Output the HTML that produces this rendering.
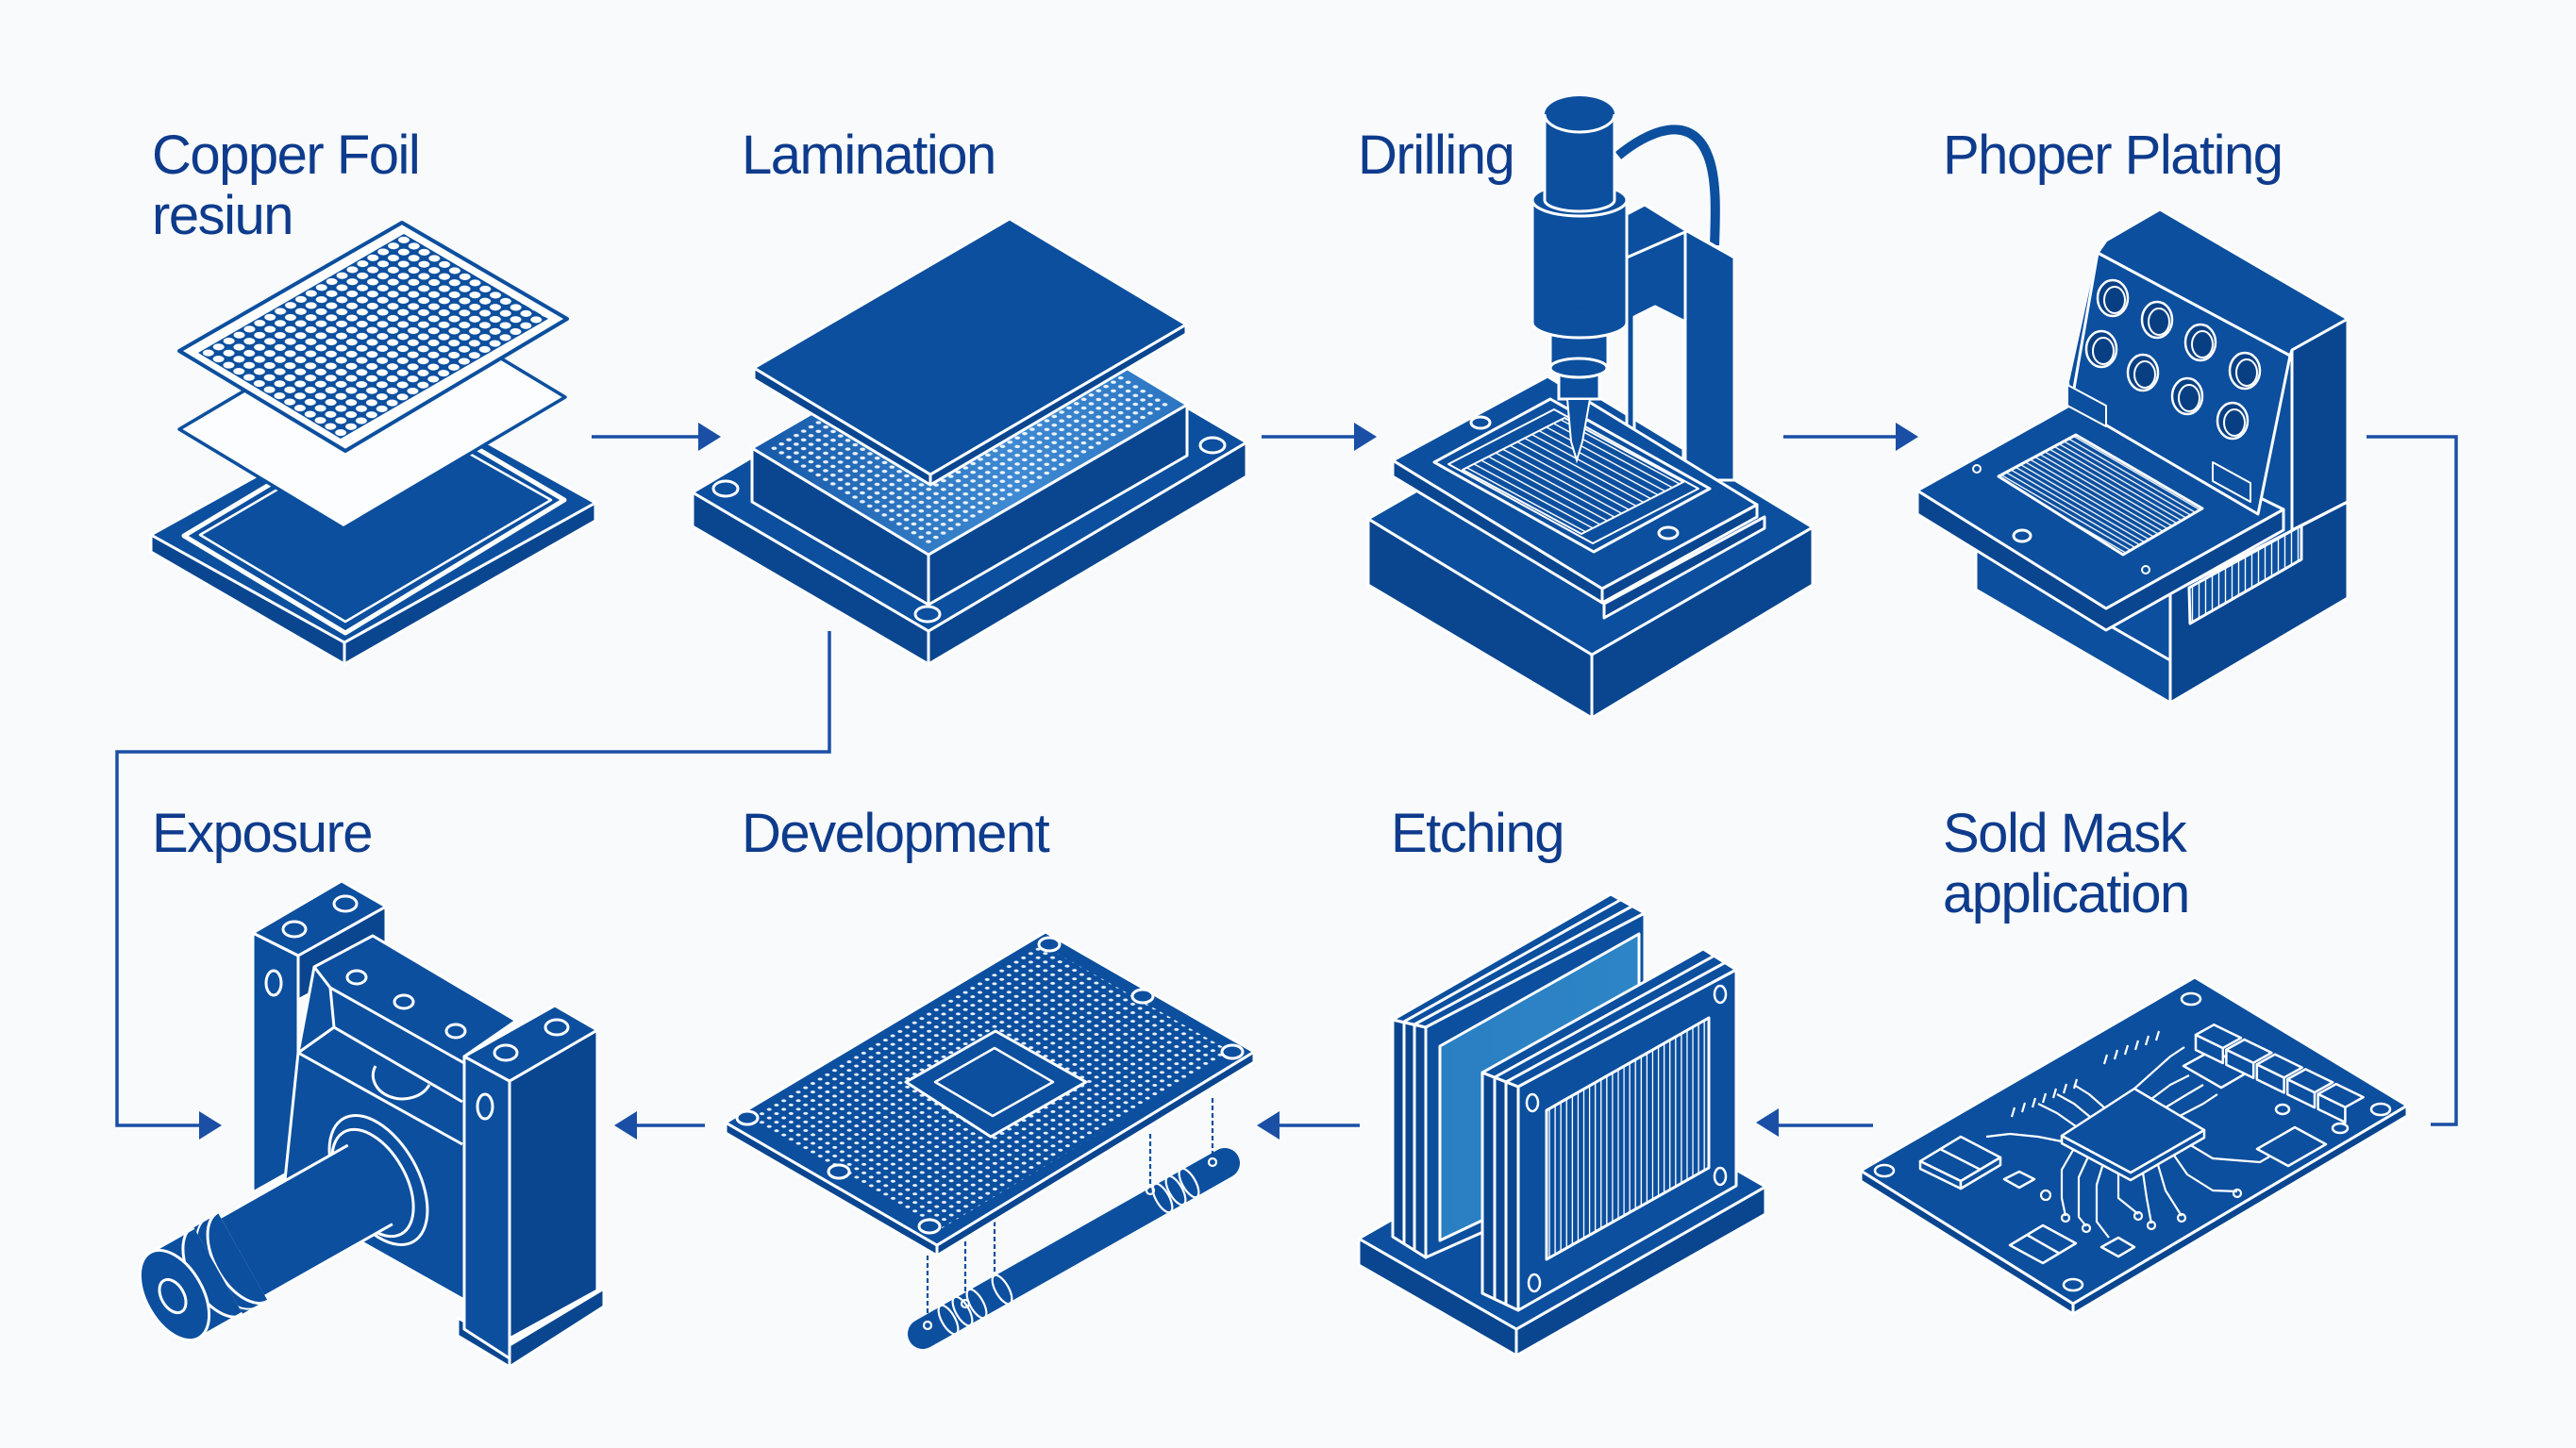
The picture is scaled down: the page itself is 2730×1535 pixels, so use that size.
<!DOCTYPE html>
<html><head><meta charset="utf-8"><style>
html,body{margin:0;padding:0;background:#f8fafc;}
svg{display:block}
</style></head><body>
<svg width="2730" height="1535" viewBox="0 0 2730 1535" xmlns="http://www.w3.org/2000/svg">
<defs>
 <pattern id="mesh" patternUnits="userSpaceOnUse" width="10" height="10" patternTransform="matrix(1.09,-0.63,1.079,0.65,210,374)">
  <rect width="10" height="10" fill="#0c4f9e"/><circle cx="5" cy="5" r="3.9" fill="#fff"/>
 </pattern>
 <pattern id="ldots" patternUnits="userSpaceOnUse" width="10" height="10" patternTransform="matrix(0.783,-0.454,0.779,0.471,797,475)">
  <circle cx="5" cy="5" r="2.6" fill="#fff" opacity="0.9"/>
 </pattern>
 <pattern id="ddots" patternUnits="userSpaceOnUse" width="10" height="10" patternTransform="matrix(0.77,-0.459,0.772,0.448,769,1190)">
  <rect width="10" height="10" fill="#0c4f9e"/><circle cx="5" cy="5" r="2.3" fill="#e8f0fb"/>
 </pattern>
 <pattern id="dhatch" patternUnits="userSpaceOnUse" width="10" height="10" patternTransform="matrix(0.881,0.476,-0.767,0.391,1658,443)">
  <rect width="10" height="10" fill="#0c4f9e"/><line x1="0" y1="5" x2="10" y2="5" stroke="#fff" stroke-width="2"/>
 </pattern>
 <pattern id="phatch" patternUnits="userSpaceOnUse" width="10" height="10" patternTransform="matrix(0.864,0.503,-0.511,0.274,2200,461)">
  <rect width="10" height="10" fill="#0c4f9e"/><line x1="0" y1="5" x2="10" y2="5" stroke="#fff" stroke-width="2.6"/>
 </pattern>
 <pattern id="grill" patternUnits="userSpaceOnUse" width="10" height="10" patternTransform="matrix(0.608,-0.347,0,1,1639,1177)">
  <rect width="10" height="10" fill="#0c4f9e"/><line x1="5" y1="0" x2="5" y2="10" stroke="#fff" stroke-width="2.2"/>
 </pattern>
 <pattern id="vent" patternUnits="userSpaceOnUse" width="10" height="10" patternTransform="matrix(0.7,-0.39,0,1,2320,623)">
  <rect width="10" height="10" fill="#0c4f9e"/><line x1="5" y1="0" x2="5" y2="10" stroke="#fff" stroke-width="2"/>
 </pattern>
 <linearGradient id="lgrad" gradientUnits="userSpaceOnUse" x1="800" y1="0" x2="1258" y2="0">
  <stop offset="0" stop-color="#1559a8"/><stop offset="0.6" stop-color="#3f8ad2"/><stop offset="1" stop-color="#2a74c0"/>
 </linearGradient>
 <linearGradient id="glass" gradientUnits="userSpaceOnUse" x1="1526" y1="0" x2="1737" y2="0">
  <stop offset="0" stop-color="#2a7fc2"/><stop offset="1" stop-color="#2d85c6"/>
 </linearGradient>
</defs>

<rect width="2730" height="1535" fill="#f8fafc"/>

<!-- Labels -->
<g font-family="'Liberation Sans', Arial, sans-serif" font-size="58" letter-spacing="-1.5" fill="#0e3b8c">
 <text x="161" y="184">Copper Foil</text>
 <text x="161" y="248">resiun</text>
 <text x="786" y="184">Lamination</text>
 <text x="1439" y="184">Drilling</text>
 <text x="2059" y="184">Phoper Plating</text>
 <text x="161" y="903">Exposure</text>
 <text x="786" y="903">Development</text>
 <text x="1474" y="903">Etching</text>
 <text x="2059" y="903">Sold Mask</text>
 <text x="2059" y="967">application</text>
</g>

<!-- Connectors -->
<g stroke="#1a4fa5" stroke-width="3.5" fill="none">
 <line x1="627" y1="463" x2="745" y2="463"/>
 <line x1="1337" y1="463" x2="1440" y2="463"/>
 <line x1="1890" y1="463" x2="2014" y2="463"/>
 <polyline points="2508,463 2603,463 2603,1192 2576,1192"/>
 <polyline points="879,669 879,797 124,797 124,1193 215,1193"/>
 <line x1="747" y1="1193" x2="670" y2="1193"/>
 <line x1="1441" y1="1193" x2="1351" y2="1193"/>
 <line x1="1985" y1="1193" x2="1880" y2="1193"/>
</g>
<g fill="#1a4fa5">
 <polygon points="740,448 764,463 740,478"/>
 <polygon points="1435,448 1459,463 1435,478"/>
 <polygon points="2009,448 2033,463 2009,478"/>
 <polygon points="211,1178 235,1193 211,1208"/>
 <polygon points="675,1178 651,1193 675,1208"/>
 <polygon points="1356,1178 1332,1193 1356,1208"/>
 <polygon points="1885,1175 1861,1190 1885,1205"/>
</g>

<!-- 1 Copper foil -->
<g stroke="#fff" stroke-width="3" stroke-linejoin="round">
 <polygon points="160,567 365,681 365,704 160,585" fill="#0a4690"/>
 <polygon points="365,681 631,533 631,552 365,704" fill="#0a4690"/>
 <polygon points="160,567 426,419 631,533 365,681" fill="#0c4f9e"/>
 <polygon points="195,568 427,429 598,530 366,671" fill="none" stroke-width="5"/>
 <polygon points="212,567 427,441 584,530 366,659" fill="none" stroke-width="2.5"/>
</g>
<polygon points="190,455 425,316 599,421 364,560" fill="#fcfdfe" stroke="#0c4f9e" stroke-width="3.5" stroke-linejoin="round"/>
<polygon points="190,372 426,236 601,338 366,478" fill="#fff" stroke="#0c4f9e" stroke-width="4" stroke-linejoin="round"/>
<polygon points="210,374 428,248 581,338 361,465" fill="url(#mesh)"/>

<!-- 2 Lamination -->
<g stroke="#fff" stroke-width="3" stroke-linejoin="round">
 <polygon points="734,522 984,669 984,704 734,558" fill="#0a4690"/>
 <polygon points="984,669 1321,469 1321,505 984,704" fill="#0a4690"/>
 <polygon points="734,522 1071,322 1321,469 984,669" fill="#0c4f9e"/>
 <ellipse cx="769" cy="518" rx="13" ry="8" fill="none"/>
 <ellipse cx="983" cy="651" rx="13" ry="8" fill="none"/>
 <ellipse cx="1285" cy="472" rx="13" ry="8" fill="none"/>
 <polygon points="797,475 984,588 984,641 797,532" fill="#0a4690"/>
 <polygon points="984,588 1258,429 1258,483 984,641" fill="#0a4690"/>
 <polygon points="797,475 1071,316 1258,429 984,588" fill="url(#lgrad)"/>
</g>
<polygon points="815,475 1071,328 1242,429 984,577" fill="url(#ldots)"/>
<g stroke="#fff" stroke-width="3" stroke-linejoin="round">
 <polygon points="799,390 986,503 986,514 799,402" fill="#0a4690"/>
 <polygon points="986,503 1257,344 1257,354 986,514" fill="#0a4690"/>
 <polygon points="799,390 1070,232 1257,344 986,503" fill="#0c4f9e"/>
</g>

<!-- 3 Drilling -->
<g stroke="#fff" stroke-width="3" stroke-linejoin="round">
 <polygon points="1450,550 1687,694 1687,761 1450,620" fill="#0a4690"/>
 <polygon points="1687,694 1921,559 1921,620 1687,761" fill="#0a4690"/>
 <polygon points="1450,550 1684,415 1921,559 1687,694" fill="#0c4f9e"/>
</g>
<path d="M1715,165 C1745,140 1792,118 1810,165 C1820,190 1818,230 1817,260" fill="none" stroke="#0c4f9e" stroke-width="10"/>
<g stroke="#fff" stroke-width="3" stroke-linejoin="round">
 <polygon points="1724,227 1743,217 1838,273 1838,509 1784,509 1784,340 1754,325 1732,336 1732,479 1724,479" fill="#0c4f9e"/>
 <polyline points="1724,273 1788,245 1838,273" fill="none"/>
 <line x1="1786" y1="245" x2="1786" y2="509"/>
 <line x1="1743" y1="217" x2="1788" y2="245"/>
</g>
<g stroke="#fff" stroke-width="3" stroke-linejoin="round">
 <polygon points="1700,640 1870,548 1870,560 1700,655" fill="#0a4690"/>
 <polygon points="1476,488 1698,624 1698,639 1476,505" fill="#0a4690"/>
 <polygon points="1698,624 1862,535 1862,548 1698,639" fill="#0a4690"/>
 <polygon points="1476,488 1640,399 1862,535 1698,624" fill="#0c4f9e"/>
 <polygon points="1520,490 1643,423 1812,518 1689,585" fill="none"/>
 <polygon points="1535,492 1647,434 1800,518 1688,576" fill="none" stroke-width="2"/>
 <polygon points="1550,498 1658,443 1784,511 1676,566" fill="url(#dhatch)" stroke-width="2"/>
 <ellipse cx="1569" cy="448" rx="10" ry="6" fill="none"/>
 <ellipse cx="1768" cy="565" rx="10" ry="6" fill="none"/>
</g>
<g stroke="#fff" stroke-width="3">
 <rect x="1652" y="388" width="43" height="35" fill="#0c4f9e"/>
 <polygon points="1661,423 1685,423 1677,468 1671,488 1665,468" fill="#0c4f9e" stroke-width="2"/>
 <rect x="1643" y="336" width="61" height="54" fill="#0c4f9e"/>
 <ellipse cx="1673" cy="390" rx="30" ry="10" fill="#0c4f9e"/>
 <rect x="1624" y="212" width="100" height="130" fill="#0c4f9e" stroke="none"/>
 <ellipse cx="1674" cy="342" rx="50" ry="16" fill="#0c4f9e" stroke="none"/>
 <path d="M1624,212 L1624,342 A50,16 0 0 0 1724,342 L1724,212" fill="none"/>
 <ellipse cx="1674" cy="212" rx="50" ry="17" fill="#0c4f9e"/>
 <rect x="1637" y="121" width="74" height="91" fill="#0c4f9e" stroke="none"/>
 <path d="M1637,121 L1637,212 A37,12 0 0 0 1711,212 L1711,121" fill="none"/>
 <ellipse cx="1674" cy="121" rx="37" ry="19" fill="#0c4f9e" stroke="none"/>
 <path d="M1637,121 A37,19 0 0 0 1711,121" fill="none"/>
</g>

<!-- 4 Plating -->
<g stroke="#fff" stroke-width="3" stroke-linejoin="round">
 <polygon points="2032,520 2195,429 2193,405 2223,268 2232,255 2289,222 2488,338 2488,634 2300,745 2094,625 2094,582 2032,545" fill="#0c4f9e" stroke="none"/>
 <polygon points="2429,371 2488,338 2488,532 2429,562" fill="#0a4690"/>
 <polygon points="2300,629 2488,532 2488,634 2300,745" fill="#0a4690"/>
 <polygon points="2094,582 2300,700 2300,745 2094,625" fill="#0c4f9e"/>
 <polygon points="2320,623 2439,557 2439,593 2321,661" fill="url(#vent)"/>
 <polygon points="2032,545 2232,668 2420,562 2420,540 2232,645 2032,520" fill="#0a4690"/>
 <polygon points="2032,520 2195,429 2420,540 2232,645" fill="#0c4f9e"/>
 <polygon points="2223,268 2232,255 2289,222 2488,338 2429,371 2427,377" fill="#0c4f9e"/>
 <polygon points="2195,429 2223,268 2427,377 2393,545" fill="#0c4f9e"/>
 <line x1="2429" y1="371" x2="2429" y2="545"/>
 <polygon points="2191,408 2232,430 2232,452 2191,430" fill="#0c4f9e" stroke-width="2"/>
 <polygon points="2345,490 2385,512 2385,532 2345,510" fill="#0c4f9e" stroke-width="2"/>
 <polygon points="2118,505 2200,461 2334,539 2250,588" fill="url(#phatch)"/>
 <circle cx="2095" cy="497" r="4" fill="none" stroke-width="2"/>
 <ellipse cx="2143" cy="568" rx="9" ry="6" fill="none"/>
 <circle cx="2274" cy="604" r="4" fill="none" stroke-width="2"/>
</g>
<g stroke="#fff" stroke-width="2.5">
 <g fill="#083f83">
  <ellipse cx="2239" cy="316" rx="16" ry="19"/><ellipse cx="2286" cy="339" rx="16" ry="19"/>
  <ellipse cx="2332" cy="363" rx="16" ry="19"/><ellipse cx="2379" cy="393" rx="16" ry="19"/>
  <ellipse cx="2227" cy="370" rx="16" ry="19"/><ellipse cx="2271" cy="395" rx="16" ry="19"/>
  <ellipse cx="2318" cy="420" rx="16" ry="19"/><ellipse cx="2366" cy="446" rx="16" ry="19"/>
 </g>
 <g fill="none" stroke-width="2">
  <ellipse cx="2241" cy="318" rx="11" ry="14"/><ellipse cx="2288" cy="341" rx="11" ry="14"/>
  <ellipse cx="2334" cy="365" rx="11" ry="14"/><ellipse cx="2381" cy="395" rx="11" ry="14"/>
  <ellipse cx="2229" cy="372" rx="11" ry="14"/><ellipse cx="2273" cy="397" rx="11" ry="14"/>
  <ellipse cx="2320" cy="422" rx="11" ry="14"/><ellipse cx="2368" cy="448" rx="11" ry="14"/>
 </g>
</g>

<!-- 5 Exposure -->
<g stroke="#fff" stroke-width="3" stroke-linejoin="round">
 <polygon points="316,1013 409,961 409,1010 316,1060" fill="#0a4690"/>
 <polygon points="268,989 316,1013 316,1237 268,1264" fill="#0c4f9e"/>
 <polygon points="268,989 362,934 409,961 316,1013" fill="#0c4f9e"/>
 <ellipse cx="312" cy="985" rx="12" ry="8" fill="none"/>
 <ellipse cx="366" cy="958" rx="12" ry="8" fill="none"/>
 <ellipse cx="290" cy="1042" rx="8" ry="13" fill="none"/>
 <polygon points="316,1116 333,1025 395,992 547,1082 492,1120 492,1378 300,1270" fill="#0c4f9e"/>
 <line x1="350" y1="1047" x2="492" y2="1127"/>
 <line x1="354" y1="1089" x2="490" y2="1168"/>
 <polyline points="333,1025 350,1047 354,1089" fill="none"/>
 <line x1="316" y1="1116" x2="490" y2="1213"/>
 <line x1="316" y1="1116" x2="354" y2="1089"/>
 <ellipse cx="378" cy="1036" rx="10" ry="7" fill="none"/>
 <ellipse cx="428" cy="1062" rx="10" ry="7" fill="none"/>
 <ellipse cx="483" cy="1093" rx="10" ry="7" fill="none"/>
 <path d="M398,1130 A30,24 0 0 0 455,1150" fill="none"/>
</g>
<!-- lens -->
<g stroke="#fff" stroke-width="3" stroke-linejoin="round">
 <ellipse cx="401" cy="1251" rx="75" ry="42" transform="rotate(60.5 401 1251)" fill="#0c4f9e"/>
 <ellipse cx="395" cy="1254" rx="62" ry="35" transform="rotate(60.5 395 1254)" fill="none"/>
 <polygon points="368.7,1214.1 415.9,1297.7 280.9,1374 233.7,1290.4" fill="#0c4f9e" stroke="none"/>
 <line x1="368.7" y1="1214.1" x2="233.7" y2="1290.4"/>
 <line x1="415.9" y1="1297.7" x2="280.9" y2="1374"/>
 <polygon points="230.7,1285.2 283.9,1379.2 257.8,1393.9 204.6,1299.9" fill="#0c4f9e" stroke="none"/>
 <path d="M230.7,1285.2 A54,30 60.5 0 0 283.9,1379.2" fill="none"/>
 <line x1="230.7" y1="1285.2" x2="204.6" y2="1299.9"/>
 <line x1="283.9" y1="1379.2" x2="257.8" y2="1393.9"/>
 <path d="M218,1292 A54,30 60.5 0 0 271,1386" fill="none" stroke-width="2"/>
 <polygon points="205.6,1301.6 256.8,1392.2 210.6,1418.3 159.4,1327.7" fill="#0c4f9e" stroke="none"/>
 <path d="M204.6,1299.9 A54,30 60.5 0 0 257.8,1393.9" fill="none"/>
 <line x1="205.6" y1="1301.6" x2="159.4" y2="1327.7"/>
 <line x1="256.8" y1="1392.2" x2="210.6" y2="1418.3"/>
 <ellipse cx="185" cy="1373" rx="52" ry="30" transform="rotate(60.5 185 1373)" fill="#0c4f9e"/>
 <ellipse cx="183" cy="1374" rx="19" ry="12" transform="rotate(60.5 183 1374)" fill="none"/>
</g>
<g stroke="#fff" stroke-width="3" stroke-linejoin="round">
 <polygon points="485,1397 540,1426 640,1366 640,1385 540,1449 485,1416" fill="#0a4690"/>
 <line x1="540" y1="1426" x2="540" y2="1449"/>
 <polygon points="492,1120 540,1146 540,1440 492,1409" fill="#0c4f9e"/>
 <polygon points="540,1146 633,1092 633,1368 540,1419" fill="#0a4690"/>
 <polygon points="492,1120 588,1066 633,1092 540,1146" fill="#0c4f9e"/>
 <ellipse cx="536" cy="1116" rx="12" ry="8" fill="none"/>
 <ellipse cx="590" cy="1089" rx="12" ry="8" fill="none"/>
 <ellipse cx="514" cy="1173" rx="8" ry="13" fill="none"/>
</g>

<!-- 6 Development -->
<g stroke="#0c4f9e" stroke-width="2.2" stroke-dasharray="5 3">
 <line x1="983" y1="1331" x2="983" y2="1405"/>
 <line x1="1023" y1="1316" x2="1023" y2="1382"/>
 <line x1="1054" y1="1295" x2="1054" y2="1368"/>
 <line x1="1219" y1="1202" x2="1219" y2="1262"/>
 <line x1="1285" y1="1164" x2="1285" y2="1232"/>
</g>
<line x1="978" y1="1414" x2="1298" y2="1233" stroke="#0c4f9e" stroke-width="32" stroke-linecap="round"/>
<g stroke="#fff" stroke-width="2.2" fill="none">
 <ellipse cx="1005" cy="1399" rx="17" ry="7" transform="rotate(60.5 1005 1399)"/>
 <ellipse cx="1020" cy="1390" rx="17" ry="7" transform="rotate(60.5 1020 1390)"/>
 <ellipse cx="1035" cy="1382" rx="17" ry="7" transform="rotate(60.5 1035 1382)"/>
 <ellipse cx="1062" cy="1367" rx="17" ry="7" transform="rotate(60.5 1062 1367)"/>
 <ellipse cx="1232" cy="1270" rx="17" ry="7" transform="rotate(60.5 1232 1270)"/>
 <ellipse cx="1246" cy="1262" rx="17" ry="7" transform="rotate(60.5 1246 1262)"/>
 <ellipse cx="1260" cy="1254" rx="17" ry="7" transform="rotate(60.5 1260 1254)"/>
 <circle cx="983" cy="1405" r="4"/><circle cx="1023" cy="1382" r="4"/>
 <circle cx="1219" cy="1262" r="4"/><circle cx="1285" cy="1232" r="4"/>
</g>
<g stroke="#fff" stroke-width="3" stroke-linejoin="round">
 <polygon points="769,1190 993,1320 993,1331 769,1201" fill="#0a4690"/>
 <polygon points="993,1320 1329,1115 1329,1126 993,1331" fill="#0a4690"/>
 <polygon points="769,1190 1108,988 1329,1115 993,1320" fill="#0c4f9e"/>
</g>
<polygon points="791,1187 1103,1001 1307,1116 995,1304" fill="url(#ddots)"/>
<g stroke="#fff" stroke-width="3" stroke-linejoin="round">
 <polygon points="960,1147 1055,1093 1151,1147 1050,1205" fill="#0c4f9e"/>
 <polygon points="991,1147 1054,1111 1116,1147 1052,1183" fill="#0c4f9e" stroke-width="2.5"/>
 <g fill="#0c4f9e">
  <ellipse cx="1112" cy="1001" rx="11" ry="7"/><ellipse cx="1211" cy="1056" rx="11" ry="7"/>
  <ellipse cx="1306" cy="1115" rx="11" ry="7"/><ellipse cx="792" cy="1185" rx="11" ry="7"/>
  <ellipse cx="889" cy="1242" rx="11" ry="7"/><ellipse cx="985" cy="1300" rx="11" ry="7"/>
 </g>
</g>

<!-- 7 Etching -->
<g stroke="#fff" stroke-width="3" stroke-linejoin="round">
 <polygon points="1440,1313 1607,1409 1607,1437 1440,1341" fill="#0a4690"/>
 <polygon points="1607,1409 1871,1258 1871,1287 1607,1437" fill="#0a4690"/>
 <polygon points="1440,1313 1704,1162 1871,1258 1607,1409" fill="#0c4f9e"/>
 <polygon points="1476,1081 1511,1089 1511,1333 1476,1311" fill="#0a4690"/>
 <line x1="1488" y1="1083" x2="1488" y2="1318"/><line x1="1499" y1="1086" x2="1499" y2="1325"/>
 <polygon points="1476,1081 1707,948 1743,968 1511,1089" fill="#0c4f9e"/>
 <line x1="1488" y1="1083" x2="1719" y2="953"/><line x1="1499" y1="1086" x2="1731" y2="960"/>
 <polygon points="1511,1089 1743,968 1743,1230 1511,1333" fill="#0c4f9e"/>
 <polygon points="1526,1109 1737,990 1737,1215 1526,1315" fill="url(#glass)"/>
 <polygon points="1571,1137 1609,1152 1609,1389 1571,1371" fill="#0a4690"/>
 <line x1="1584" y1="1142" x2="1584" y2="1378"/><line x1="1596" y1="1147" x2="1596" y2="1384"/>
 <polygon points="1571,1137 1805,1006 1840,1028 1609,1152" fill="#0c4f9e"/>
 <line x1="1584" y1="1142" x2="1817" y2="1013"/><line x1="1596" y1="1147" x2="1829" y2="1020"/>
 <polygon points="1609,1152 1840,1028 1840,1257 1609,1389" fill="#0c4f9e"/>
 <polygon points="1639,1177 1811,1079 1811,1238 1639,1335" fill="url(#grill)"/>
 <g fill="none" stroke-width="2.5">
  <ellipse cx="1624" cy="1169" rx="6" ry="9"/><ellipse cx="1823" cy="1054" rx="6" ry="9"/>
  <ellipse cx="1823" cy="1247" rx="6" ry="9"/><ellipse cx="1626" cy="1360" rx="6" ry="9"/>
 </g>
</g>

<!-- 8 Solder mask -->
<g stroke="#fff" stroke-width="3" stroke-linejoin="round">
 <polygon points="1972,1241 2197,1382 2197,1393 1972,1252" fill="#0a4690"/>
 <polygon points="2197,1382 2551,1172 2551,1183 2197,1393" fill="#0a4690"/>
 <polygon points="1972,1241 2326,1036 2551,1172 2197,1382" fill="#0c4f9e"/>
</g>
<g stroke="#fff" stroke-width="2.2" fill="none" stroke-linejoin="round">
 <path d="M2200,1214 L2185,1240 L2185,1270 L2189,1289"/>
 <path d="M2215,1222 L2203,1248 L2203,1290 L2211,1300"/>
 <path d="M2230,1230 L2222,1256 L2222,1295 L2235,1312"/>
 <path d="M2245,1238 L2245,1270 L2266,1287"/>
 <path d="M2270,1236 L2275,1270 L2280,1297"/>
 <path d="M2285,1228 L2295,1262 L2312,1289"/>
 <path d="M2300,1219 L2318,1245 L2345,1262 L2371,1263"/>
 <path d="M2315,1210 L2345,1228 L2395,1232 L2424,1215"/>
 <path d="M2200,1194 L2180,1180 L2160,1170"/>
 <path d="M2215,1184 L2198,1170 L2180,1160"/>
 <path d="M2230,1174 L2214,1160 L2198,1150"/>
 <path d="M2280,1165 L2300,1150 L2320,1140"/>
 <path d="M2295,1174 L2318,1160 L2335,1150"/>
 <path d="M2310,1183 L2335,1170 L2350,1160"/>
 <path d="M2185,1210 L2160,1205 L2130,1202 L2105,1205"/>
 <path d="M2262,1154 L2300,1120 L2315,1110"/>
 <path d="M2132,1184 l3,-10 M2143,1179 l3,-10 M2154,1174 l3,-10 M2165,1169 l3,-10 M2176,1164 l3,-10 M2187,1159 l3,-10 M2198,1154 l3,-10"/>
 <path d="M2230,1128 l3,-10 M2241,1123 l3,-10 M2252,1118 l3,-10 M2263,1113 l3,-10 M2274,1108 l3,-10 M2285,1103 l3,-10"/>
 <circle cx="2189" cy="1291" r="4"/><circle cx="2211" cy="1302" r="4"/>
 <circle cx="2266" cy="1289" r="4"/><circle cx="2280" cy="1299" r="4"/>
 <circle cx="2312" cy="1291" r="4"/><circle cx="2371" cy="1265" r="4"/>
 <circle cx="2168" cy="1267" r="5"/>
</g>
<g stroke="#fff" stroke-width="2.5" stroke-linejoin="round" fill="#0c4f9e">
 <polygon points="2185,1204 2185,1212 2258,1251 2336,1206 2336,1198 2258,1243"/>
 <polygon points="2185,1204 2262,1154 2336,1198 2258,1243"/>
 <polygon points="2035,1231 2078,1205 2120,1227 2078,1252"/>
 <polygon points="2035,1231 2078,1252 2078,1260 2035,1239"/>
 <polygon points="2078,1252 2120,1227 2120,1235 2078,1260"/>
 <line x1="2056" y1="1218" x2="2099" y2="1240"/>
 <polygon points="2124,1250 2140,1242 2156,1250 2140,1259"/>
 <polygon points="2130,1320 2165,1299 2200,1318 2165,1339"/>
 <line x1="2148" y1="1309" x2="2183" y2="1329"/>
 <polygon points="2227,1322 2245,1312 2262,1322 2245,1332"/>
 <polygon points="2392,1218 2432,1195 2465,1213 2425,1236"/>
 <polygon points="2314,1130 2345,1113 2385,1135 2354,1153"/>
 <ellipse cx="2322" cy="1059" rx="10" ry="6"/><ellipse cx="2523" cy="1176" rx="10" ry="6"/>
 <ellipse cx="2480" cy="1196" rx="8" ry="5"/><ellipse cx="1997" cy="1241" rx="10" ry="6"/>
 <ellipse cx="2197" cy="1362" rx="10" ry="6"/><ellipse cx="2419" cy="1176" rx="7" ry="5"/>
 <g transform="translate(-10,8)">
  <polygon points="2337,1105 2365.8,1119 2365.8,1103 2337,1089"/><polygon points="2337,1089 2365.8,1103 2385,1092.3 2356.2,1078.3"/>
  <polygon points="2369.4,1120.7 2398.2,1134.7 2398.2,1118.7 2369.4,1104.7"/><polygon points="2369.4,1104.7 2398.2,1118.7 2417.4,1108 2388.6,1094"/>
  <polygon points="2401.8,1136.4 2430.6,1150.4 2430.6,1134.4 2401.8,1120.4"/><polygon points="2401.8,1120.4 2430.6,1134.4 2449.8,1123.7 2421,1109.7"/>
  <polygon points="2434.2,1152.1 2463,1166.1 2463,1150.1 2434.2,1136.1"/><polygon points="2434.2,1136.1 2463,1150.1 2482.2,1139.4 2453.4,1125.4"/>
  <polygon points="2466.6,1167.8 2495.4,1181.8 2495.4,1165.8 2466.6,1151.8"/><polygon points="2466.6,1151.8 2495.4,1165.8 2514.6,1155.1 2485.8,1141.1"/>
 </g>
</g>
</svg>
</body></html>
